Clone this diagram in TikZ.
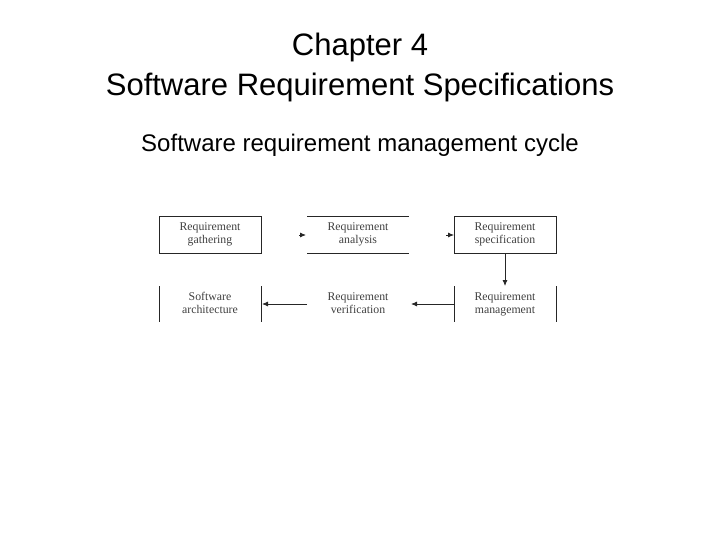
\documentclass[tikz,border=0pt]{standalone}
\usepackage{fontspec}
\setmainfont{Liberation Sans}
\newfontfamily\boxfont{Liberation Serif}
\usetikzlibrary{arrows.meta}
\begin{document}
\begin{tikzpicture}[x=1pt,y=-1pt,
  lbl/.style={font=\boxfont\fontsize{11.8}{13}\selectfont,align=center,text=black!75},
  ln/.style={line width=0.8pt,black!85},
  arr/.style={ln,-{Latex[length=6pt,width=5pt]}}]
\useasboundingbox (0,0) rectangle (720,540);
\node[font=\fontsize{31}{40}\selectfont,align=center] (t) at (360,67) {Chapter 4\\Software Requirement Specifications};
\node[font=\fontsize{24}{28}\selectfont] (s) at (360,145) {Software requirement management cycle};
% top row
\draw[ln] (159,216) rectangle (261,253);
\draw[ln] (307,216) -- (409,216) (307,253) -- (409,253);
\draw[ln] (454,216) rectangle (556,253);
\node[lbl] (g) at (210,234.5) {Requirement\strut\\gathering\strut};
\node[lbl] (a) at (358,234.5) {Requirement\strut\\analysis\strut};
\node[lbl] (sp) at (505,234.5) {Requirement\strut\\specification\strut};
% bottom row
\draw[ln] (159,286) -- (159,322) (261,286) -- (261,322);
\draw[ln] (454,286) -- (454,322) (556,286) -- (556,322);
\node[lbl] (sw) at (210,304) {Software\strut\\architecture\strut};
\node[lbl] (v) at (358,304) {Requirement\strut\\verification\strut};
\node[lbl] (m) at (505,304) {Requirement\strut\\management\strut};
\coordinate (a1s) at (299,235); \coordinate (a1e) at (306,235);
\coordinate (a2s) at (446,235); \coordinate (a2e) at (454,235);
\draw[arr] (a1s) -- (a1e);
\draw[arr] (a2s) -- (a2e);
\coordinate (sb) at (505,253); \coordinate (mt) at (505,286);
\draw[arr] (sb) -- (mt);
\coordinate (ml) at (454,304); \coordinate (vr) at (411,304);
\draw[arr] (ml) -- (vr);
\coordinate (vl) at (307,304); \coordinate (swr) at (262,304);
\draw[arr] (vl) -- (swr);
\end{tikzpicture}
\end{document}
